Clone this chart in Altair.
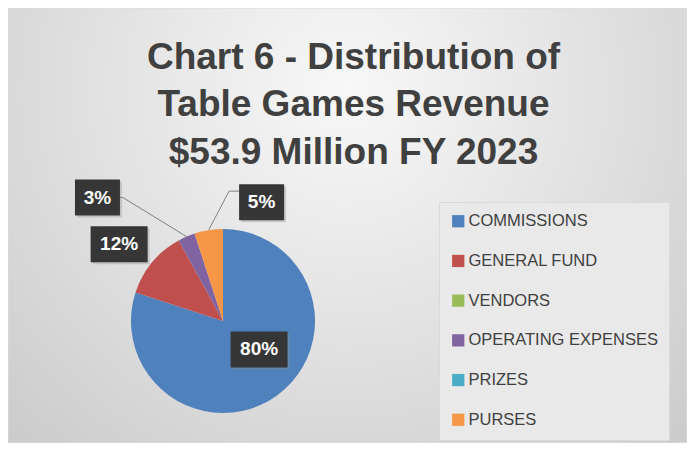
import math
import altair as alt
import pandas as pd

# ---------------- data ----------------
categories = ["COMMISSIONS", "GENERAL FUND", "VENDORS", "OPERATING EXPENSES", "PRIZES", "PURSES"]
shares = [80, 12, 0, 3, 0, 5]
colors = ["#4F81BD", "#C0504D", "#9BBB59", "#8064A2", "#4BACC6", "#F79646"]
title_lines = ["Chart 6 - Distribution of", "Table Games Revenue", "$53.9 Million FY 2023"]

# ---------------- layout / style ----------------
W, H = 679, 435
CX, CY, R = 215, 313, 92
LABEL_NUDGE = {  # label box centre relative to the slice's outer mid-point (px)
    "COMMISSIONS": (-18, -46),
    "GENERAL FUND": (-33, -18),
    "OPERATING EXPENSES": (-89, -39),
    "PURSES": (53, -28),
}
LEADERS = {  # side of box the leader attaches to, vertical offset, elbow length
    "OPERATING EXPENSES": (1, 0, 3),
    "PURSES": (-1, -11, 10),
}
BOX_H = 36
SHADOW = 2

df = pd.DataFrame({"category": categories, "share": shares, "idx": range(len(categories))})

total = sum(shares)
rows, lines = [], []
cum = 0
for cat, v in zip(categories, shares):
    mid = (cum + v / 2) / total * 2 * math.pi
    cum += v
    if v <= 0:
        continue
    ox, oy = CX + R * math.sin(mid), CY - R * math.cos(mid)
    nx, ny = LABEL_NUDGE[cat]
    bx, by = ox + nx, oy + ny
    lab = f"{v}%"
    bw = 12 * len(lab) + 21
    rows.append({"label": lab, "x": bx, "y": by,
                 "x0": bx - bw / 2, "x1": bx + bw / 2,
                 "y0": by - BOX_H / 2, "y1": by + BOX_H / 2,
                 "sx0": bx - bw / 2 + SHADOW, "sx1": bx + bw / 2 + SHADOW,
                 "sy0": by - BOX_H / 2 + SHADOW, "sy1": by + BOX_H / 2 + SHADOW})
    if cat in LEADERS:
        side, dy, el = LEADERS[cat]
        ax = bx + side * bw / 2
        ay = by + dy
        pts = [(ox, oy), (ax + side * el, ay), (ax, ay)]
        for i, (px, py) in enumerate(pts):
            lines.append({"label": lab, "pt": i, "x": px, "y": py})

lab_df = pd.DataFrame(rows)
line_df = pd.DataFrame(lines)

# ---------------- layers ----------------
bg = alt.Chart(pd.DataFrame({"a": [0]})).mark_rect(
    fill=alt.RadialGradient(
        gradient="radial",
        stops=[alt.GradientStop(color="#f8f8f8", offset=0),
               alt.GradientStop(color="#e2e2e2", offset=0.45),
               alt.GradientStop(color="#c6c6c6", offset=1)],
        x1=0.5, y1=0.3, r1=0, x2=0.5, y2=0.3, r2=0.8),
    stroke="#dcdcdc", strokeWidth=1,
).encode(x=alt.value(0), x2=alt.value(W), y=alt.value(0), y2=alt.value(H))

pie = alt.Chart(df).mark_arc(radius=R).encode(
    theta=alt.Theta("share:Q", stack=True),
    order=alt.Order("idx:Q"),
    color=alt.Color(
        "category:N",
        scale=alt.Scale(domain=categories, range=colors),
        legend=alt.Legend(
            title=None, orient="none", legendX=431, legendY=194,
            direction="vertical",
            symbolType="square", symbolSize=150, symbolStrokeWidth=0,
            labelFont="Liberation Sans", labelFontSize=16.5, labelColor="#404040",
            labelOffset=2, rowPadding=22.7, padding=11,
            fillColor="#e9e9e9", strokeColor="#dadada", labelLimit=300,
        ),
    ),
    x=alt.value(CX),
    y=alt.value(CY),
)

leader = alt.Chart(line_df).mark_line(color="#808080", strokeWidth=1).encode(
    x=alt.X("x:Q", scale=None),
    y=alt.Y("y:Q", scale=None),
    detail="label:N",
    order="pt:Q",
)

shadows = alt.Chart(lab_df).mark_rect(fill="#8c8c8c", opacity=0.35).encode(
    x=alt.X("sx0:Q", scale=None), x2="sx1:Q",
    y=alt.Y("sy0:Q", scale=None), y2="sy1:Q",
)

boxes = alt.Chart(lab_df).mark_rect(fill="#363636").encode(
    x=alt.X("x0:Q", scale=None), x2="x1:Q",
    y=alt.Y("y0:Q", scale=None), y2="y1:Q",
)

texts = alt.Chart(lab_df).mark_text(
    color="#ffffff", font="Liberation Sans", fontWeight="bold", fontSize=19,
    align="center", baseline="middle",
).encode(
    x=alt.X("x:Q", scale=None),
    y=alt.Y("y:Q", scale=None),
    text="label:N",
)

chart = alt.layer(bg, pie, leader, shadows, boxes, texts).properties(
    width=W, height=H,
    autosize=alt.AutoSizeParams(type="none"),
    padding=0,
    title=alt.TitleParams(
        text=title_lines, font="Liberation Sans", fontSize=37, fontWeight="bold",
        color="#404040", anchor="middle", frame="group", baseline="top",
        offset=-164, lineHeight=47.5, dx=6,
    ),
).configure_view(stroke=None).configure(background="#ffffff")

chart.save("out.html", embed_options={"renderer": "svg", "actions": False})
